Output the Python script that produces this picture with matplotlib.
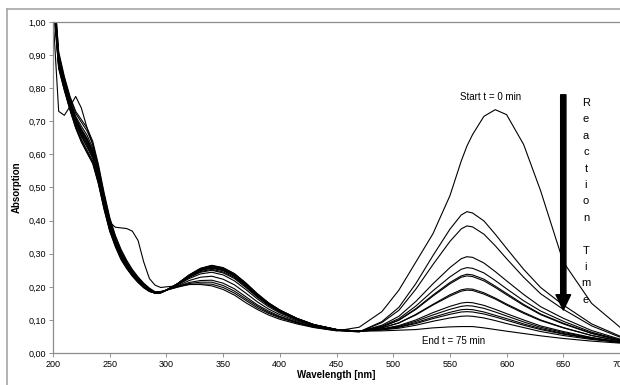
import matplotlib
matplotlib.use("Agg")
import matplotlib.pyplot as plt
from matplotlib.ticker import FuncFormatter, MultipleLocator
from matplotlib.lines import Line2D

plt.rcParams['font.family'] = ['Liberation Sans', 'DejaVu Sans']

# wavelength grid [nm]
wavelength = [200, 205, 210, 215, 220, 225, 230, 235, 240, 245, 250, 255, 260, 265, 270, 275, 280, 285,
              290, 295, 300, 310, 320, 330, 340, 350, 360, 370, 380, 390, 400, 415, 430, 450, 470,
              490, 505, 520, 535, 550, 560, 565, 570, 580, 590, 600, 615, 630, 650, 675, 700]

# absorption spectra, t = 0 (start) ... t = 75 min (end)
abs_t00 = [1.12, 0.89, 0.82, 0.76, 0.71, 0.675, 0.645, 0.61, 0.545, 0.465, 0.395, 0.38, 0.378, 0.376, 0.368, 0.34, 0.275, 0.225,
           0.205, 0.198, 0.20, 0.203, 0.207, 0.207, 0.203, 0.192, 0.175, 0.152, 0.132, 0.115, 0.102, 0.088, 0.077, 0.067, 0.078,
           0.125, 0.19, 0.275, 0.36, 0.475, 0.58, 0.625, 0.66, 0.715, 0.735, 0.72, 0.63, 0.49, 0.275, 0.15, 0.078]
abs_t01 = [1.15, 0.91, 0.835, 0.775, 0.73, 0.705, 0.68, 0.64, 0.57, 0.485, 0.41, 0.355, 0.313, 0.28, 0.252, 0.23, 0.211, 0.196,
           0.185, 0.186, 0.19, 0.199, 0.207, 0.209, 0.208, 0.198, 0.181, 0.159, 0.137, 0.120, 0.106, 0.091, 0.078, 0.068, 0.064,
           0.095, 0.138, 0.210, 0.294, 0.374, 0.417, 0.427, 0.423, 0.399, 0.359, 0.316, 0.253, 0.198, 0.145, 0.088, 0.051]
abs_t02 = [1.02, 0.73, 0.718, 0.745, 0.775, 0.74, 0.68, 0.63, 0.56, 0.47, 0.395, 0.34, 0.298, 0.267, 0.242, 0.221, 0.204, 0.191,
           0.184, 0.185, 0.19, 0.200, 0.210, 0.214, 0.214, 0.204, 0.187, 0.164, 0.142, 0.123, 0.109, 0.092, 0.079, 0.068, 0.064,
           0.092, 0.129, 0.193, 0.267, 0.337, 0.375, 0.384, 0.381, 0.359, 0.324, 0.285, 0.229, 0.179, 0.132, 0.082, 0.048]
abs_t03 = [1.14, 0.904, 0.83, 0.77, 0.724, 0.697, 0.671, 0.632, 0.563, 0.479, 0.405, 0.351, 0.309, 0.277, 0.250, 0.228, 0.209, 0.195,
           0.184, 0.185, 0.19, 0.201, 0.213, 0.219, 0.220, 0.211, 0.194, 0.170, 0.146, 0.127, 0.111, 0.094, 0.080, 0.069, 0.065,
           0.084, 0.111, 0.156, 0.209, 0.258, 0.285, 0.291, 0.289, 0.272, 0.246, 0.218, 0.177, 0.140, 0.105, 0.068, 0.042]
abs_t04 = [1.125, 0.895, 0.823, 0.763, 0.715, 0.685, 0.658, 0.62, 0.553, 0.47, 0.398, 0.345, 0.304, 0.273, 0.246, 0.225, 0.207, 0.193,
           0.183, 0.184, 0.19, 0.203, 0.219, 0.229, 0.232, 0.223, 0.206, 0.181, 0.155, 0.133, 0.116, 0.097, 0.082, 0.069, 0.065,
           0.081, 0.104, 0.142, 0.188, 0.230, 0.253, 0.258, 0.256, 0.242, 0.219, 0.194, 0.158, 0.127, 0.096, 0.063, 0.040]
abs_t05 = [1.115, 0.889, 0.818, 0.758, 0.709, 0.677, 0.649, 0.612, 0.546, 0.464, 0.393, 0.341, 0.30, 0.27, 0.244, 0.223, 0.205, 0.192,
           0.182, 0.183, 0.19, 0.206, 0.225, 0.239, 0.244, 0.236, 0.218, 0.192, 0.164, 0.140, 0.121, 0.100, 0.083, 0.070, 0.065,
           0.080, 0.100, 0.134, 0.175, 0.213, 0.233, 0.238, 0.236, 0.223, 0.202, 0.180, 0.147, 0.118, 0.090, 0.060, 0.039]
abs_t06 = [1.105, 0.883, 0.813, 0.753, 0.703, 0.669, 0.64, 0.604, 0.539, 0.458, 0.388, 0.337, 0.297, 0.267, 0.241, 0.221, 0.204, 0.191,
           0.182, 0.183, 0.19, 0.207, 0.228, 0.244, 0.250, 0.242, 0.225, 0.198, 0.169, 0.144, 0.124, 0.101, 0.084, 0.070, 0.066,
           0.079, 0.099, 0.132, 0.172, 0.209, 0.229, 0.233, 0.231, 0.218, 0.198, 0.176, 0.144, 0.116, 0.088, 0.059, 0.039]
abs_t07 = [1.095, 0.877, 0.808, 0.748, 0.697, 0.661, 0.63, 0.596, 0.532, 0.452, 0.383, 0.333, 0.293, 0.264, 0.239, 0.219, 0.202, 0.189,
           0.182, 0.183, 0.19, 0.208, 0.230, 0.246, 0.253, 0.245, 0.228, 0.201, 0.171, 0.145, 0.125, 0.102, 0.084, 0.070, 0.066,
           0.076, 0.091, 0.117, 0.147, 0.176, 0.191, 0.194, 0.193, 0.182, 0.166, 0.148, 0.123, 0.100, 0.077, 0.053, 0.037]
abs_t08 = [1.085, 0.871, 0.803, 0.743, 0.691, 0.653, 0.622, 0.588, 0.525, 0.446, 0.378, 0.329, 0.290, 0.261, 0.236, 0.217, 0.201, 0.188,
           0.182, 0.183, 0.19, 0.208, 0.231, 0.249, 0.256, 0.249, 0.231, 0.204, 0.173, 0.147, 0.126, 0.103, 0.085, 0.071, 0.066,
           0.076, 0.091, 0.115, 0.145, 0.172, 0.187, 0.190, 0.189, 0.178, 0.163, 0.145, 0.120, 0.098, 0.076, 0.053, 0.036]
abs_t09 = [1.075, 0.865, 0.798, 0.738, 0.685, 0.645, 0.613, 0.58, 0.518, 0.44, 0.373, 0.325, 0.286, 0.258, 0.234, 0.215, 0.199, 0.187,
           0.181, 0.182, 0.19, 0.209, 0.232, 0.250, 0.258, 0.250, 0.233, 0.205, 0.175, 0.148, 0.127, 0.103, 0.085, 0.071, 0.066,
           0.073, 0.083, 0.100, 0.122, 0.141, 0.151, 0.153, 0.152, 0.144, 0.132, 0.119, 0.100, 0.082, 0.065, 0.047, 0.034]
abs_t10 = [1.065, 0.859, 0.793, 0.733, 0.679, 0.637, 0.604, 0.572, 0.511, 0.434, 0.368, 0.321, 0.282, 0.255, 0.232, 0.213, 0.197, 0.186,
           0.181, 0.182, 0.19, 0.209, 0.233, 0.251, 0.259, 0.252, 0.234, 0.206, 0.176, 0.149, 0.128, 0.104, 0.085, 0.071, 0.066,
           0.072, 0.081, 0.096, 0.115, 0.132, 0.141, 0.143, 0.142, 0.135, 0.124, 0.112, 0.094, 0.078, 0.062, 0.046, 0.033]
abs_t11 = [1.07, 0.862, 0.795, 0.735, 0.682, 0.641, 0.608, 0.576, 0.514, 0.437, 0.37, 0.323, 0.284, 0.256, 0.233, 0.214, 0.198, 0.186,
           0.181, 0.182, 0.19, 0.209, 0.234, 0.253, 0.261, 0.254, 0.236, 0.208, 0.177, 0.150, 0.128, 0.104, 0.085, 0.071, 0.066,
           0.071, 0.079, 0.092, 0.108, 0.123, 0.131, 0.132, 0.131, 0.124, 0.114, 0.104, 0.088, 0.074, 0.059, 0.044, 0.033]
abs_t12 = [1.10, 0.88, 0.81, 0.75, 0.70, 0.665, 0.635, 0.60, 0.535, 0.455, 0.385, 0.335, 0.295, 0.265, 0.24, 0.22, 0.203, 0.19,
           0.181, 0.182, 0.19, 0.210, 0.235, 0.254, 0.263, 0.256, 0.238, 0.210, 0.178, 0.151, 0.129, 0.104, 0.086, 0.071, 0.066,
           0.071, 0.078, 0.089, 0.104, 0.117, 0.124, 0.125, 0.124, 0.118, 0.109, 0.099, 0.084, 0.071, 0.057, 0.043, 0.032]
abs_t13 = [1.09, 0.874, 0.805, 0.745, 0.694, 0.657, 0.626, 0.592, 0.528, 0.449, 0.38, 0.331, 0.291, 0.262, 0.238, 0.218, 0.201, 0.189,
           0.181, 0.182, 0.19, 0.210, 0.235, 0.255, 0.264, 0.257, 0.239, 0.211, 0.179, 0.151, 0.130, 0.105, 0.086, 0.071, 0.066,
           0.070, 0.075, 0.084, 0.096, 0.106, 0.111, 0.112, 0.111, 0.106, 0.098, 0.089, 0.077, 0.065, 0.053, 0.041, 0.032]
abs_t14 = [1.11, 0.886, 0.815, 0.755, 0.706, 0.673, 0.644, 0.608, 0.542, 0.461, 0.39, 0.339, 0.299, 0.268, 0.242, 0.222, 0.205, 0.191,
           0.181, 0.182, 0.19, 0.21, 0.236, 0.256, 0.265, 0.258, 0.24, 0.212, 0.18, 0.152, 0.13, 0.105, 0.086, 0.071, 0.066,
           0.067, 0.069, 0.071, 0.076, 0.079, 0.080, 0.080, 0.080, 0.076, 0.071, 0.066, 0.059, 0.052, 0.044, 0.036, 0.030]

spectra = [abs_t00, abs_t01, abs_t02, abs_t03, abs_t04, abs_t05, abs_t06, abs_t07,
           abs_t08, abs_t09, abs_t10, abs_t11, abs_t12, abs_t13, abs_t14]

fig = plt.figure(figsize=(6.2, 3.85), dpi=100)
ax = fig.add_axes([0.0855, 0.083, 0.9145, 0.860])

for s in spectra:
    ax.plot(wavelength, s, color='black', lw=0.8, solid_joinstyle='round')

ax.set_xlim(200, 700)
ax.set_ylim(0, 1)
ax.xaxis.set_major_locator(MultipleLocator(50))
ax.yaxis.set_major_locator(MultipleLocator(0.1))
ax.yaxis.set_major_formatter(FuncFormatter(lambda v, p: f"{v:.2f}".replace('.', ',')))
ax.tick_params(labelsize=6.5, length=3, width=0.6, color='#808080', pad=2)

for side in ['left', 'bottom', 'top']:
    ax.spines[side].set_color('#8c8c8c')
    ax.spines[side].set_linewidth(0.9)
ax.spines['right'].set_visible(False)

ax.set_ylabel('Absorption', fontsize=7, fontweight='bold', labelpad=5)
ax.set_xlabel('Wavelength [nm]', fontsize=7, fontweight='bold', labelpad=1)

# annotations
ax.text(586, 0.757, 'Start t = 0 min', fontsize=7, ha='center', va='bottom')
ax.text(553, 0.036, 'End t = 75 min', fontsize=7, ha='center', va='center')
ax.annotate('', xy=(650, 0.13), xytext=(650, 0.78),
            arrowprops=dict(width=3.8, headwidth=10.5, headlength=11, color='black', shrink=0))
ax.text(670, 0.77, '\n'.join('Reaction Time'), fontsize=8, ha='center', va='top', linespacing=1.8)

# outer chart frame
fig.add_artist(Line2D([7 / 620, 7 / 620], [0, 1 - 9 / 385], color='#a6a6a6', lw=1.2))
fig.add_artist(Line2D([7 / 620, 1], [1 - 9 / 385, 1 - 9 / 385], color='#a6a6a6', lw=1.2))

fig.savefig('out.png', dpi=100)
